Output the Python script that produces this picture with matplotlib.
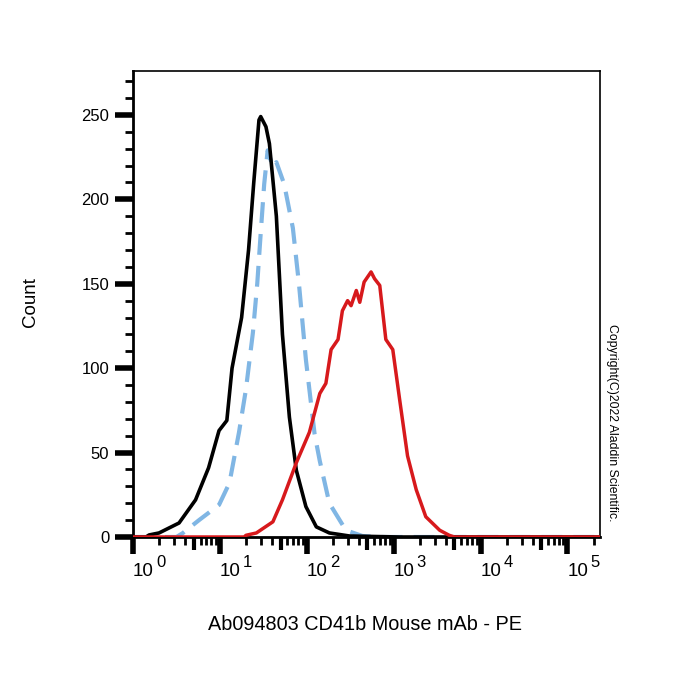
import numpy as np
import matplotlib
matplotlib.use("Agg")
import matplotlib.pyplot as plt
from matplotlib.transforms import blended_transform_factory

plt.rcParams['font.family'] = ['Liberation Sans', 'DejaVu Sans']
plt.rcParams['lines.scale_dashes'] = False

# ---- data (log10 fluorescence, count) ----
black_log = [0.0, 0.15, 0.185, 0.30, 0.53, 0.72, 0.87, 0.99, 1.08, 1.14, 1.25, 1.33, 1.39,
             1.45, 1.47, 1.53, 1.57, 1.65, 1.72, 1.80, 1.88, 1.99, 2.11, 2.26, 2.49, 3.07, 5.4]
black_cnt = [0, 0, 1.2, 2.4, 8.3, 22, 41, 63, 69, 100, 130, 170, 210,
             247, 249, 243, 233, 190, 120, 71, 39.5, 18, 6, 2.4, 0.6, 0, 0]

blue_log = [0.0, 0.5, 0.57, 0.76, 0.99, 1.11, 1.22, 1.30, 1.38, 1.43, 1.47, 1.51, 1.55,
            1.61, 1.65, 1.74, 1.84, 1.91, 1.99, 2.09, 2.15, 2.26, 2.45, 2.64, 2.84, 5.4]
blue_cnt = [0, 0, 2.2, 10, 19, 32, 62, 87.5, 121, 150, 180, 209, 229,
            219, 222, 209, 183, 150, 105, 61, 45, 20, 4, 0.6, 0, 0]

red_log = [0.0, 1.28, 1.30, 1.42, 1.61, 1.72, 1.88, 2.03, 2.15, 2.22, 2.28, 2.36, 2.41,
           2.47, 2.51, 2.57, 2.61, 2.66, 2.74, 2.78, 2.84, 2.91, 2.99, 3.07, 3.16,
           3.26, 3.37, 3.53, 3.64, 3.70, 5.4]
red_cnt = [0, 0, 1, 2.4, 9, 22, 44, 62, 85, 91, 111, 117, 134,
           140, 137, 146, 139, 151, 157, 153, 149, 117, 111, 81, 48,
           28, 12, 4, 1, 0, 0]

decades = [0, 1, 2, 3, 4, 5]
y_major = [0, 50, 100, 150, 200, 250]

x_label = "Ab094803 CD41b Mouse mAb - PE"
y_label = "Count"
copyright_text = "Copyright(C)2022 Aladdin Scientific."

XLIM = (1, 10**5.375)

# ---- figure ----
fig = plt.figure(figsize=(7, 7), dpi=100)
ax = fig.add_axes([133/700, 1 - 537/700, (600-133)/700, (537-71)/700])

to_x = lambda lg: np.power(10.0, np.asarray(lg))
ax.plot(to_x(black_log), black_cnt, color='black', lw=2.6, zorder=3)
ax.plot(to_x(blue_log), blue_cnt, color='#80b6e4', lw=3.0, dashes=(15, 8), zorder=2)
ax.plot(to_x(red_log), red_cnt, color='#d7191c', lw=2.5, zorder=4)

ax.set_xscale('log')

# x ticks
ax.set_xticks([10**d for d in decades])
minor = [m * 10**d for d in range(0, 6) for m in (2, 3, 4, 6, 7, 8, 9)]
ax.set_xticks(minor, minor=True)
ax.set_xticklabels([])
ax.xaxis.set_minor_formatter(matplotlib.ticker.NullFormatter())
ax.tick_params(axis='x', which='major', direction='out', length=12, width=4, color='black')
ax.tick_params(axis='x', which='minor', direction='out', length=6, width=2, color='black')
ax.set_xlim(*XLIM)
ax.set_ylim(0, 276)

# mid (x5) ticks via twin axis
ax2 = ax.twiny()
ax2.set_xscale('log')
ax2.xaxis.tick_bottom()
ax2.set_xticks([5 * 10**d for d in range(0, 6)])
ax2.set_xticks([], minor=True)
ax2.set_xticklabels([])
ax2.tick_params(axis='x', which='major', direction='out', length=9, width=3, color='black')
ax2.set_xlim(*XLIM)
for s in ax2.spines.values():
    s.set_visible(False)

# y ticks
ax.set_yticks(y_major)
ax.set_yticklabels([str(v) for v in y_major], fontsize=12)
ax.set_yticks(np.arange(10, 276, 10), minor=True)
ax.tick_params(axis='y', which='major', direction='out', length=13, width=4, pad=4)
ax.tick_params(axis='y', which='minor', direction='out', length=6, width=2)
ax.set_ylim(0, 276)

for side in ['top', 'right']:
    ax.spines[side].set_linewidth(1.2)
ax.spines['left'].set_linewidth(2)
ax.spines['bottom'].set_linewidth(2)

# x tick labels: "10" with large superscript
tr = blended_transform_factory(ax.transData, ax.transAxes)
for d in decades:
    base = ax.text(10**d, -26/466, "10", transform=tr, ha='left', va='top', fontsize=13.5)
    ax.annotate(str(d), xy=(1.0, 1.0), xycoords=base, xytext=(1.5, 6),
                textcoords='offset points', ha='left', va='top', fontsize=12)

fig.text(365/700, 1 - 625/700, x_label, ha='center', va='center', fontsize=14.3)
fig.text(30/700, 1 - 302/700, y_label, ha='center', va='center', rotation=90, fontsize=13.5)
fig.text(612/700, 1 - 423/700, copyright_text, ha='center', va='center', rotation=-90, fontsize=8.8)

fig.savefig("out.png", dpi=100, facecolor='white')
